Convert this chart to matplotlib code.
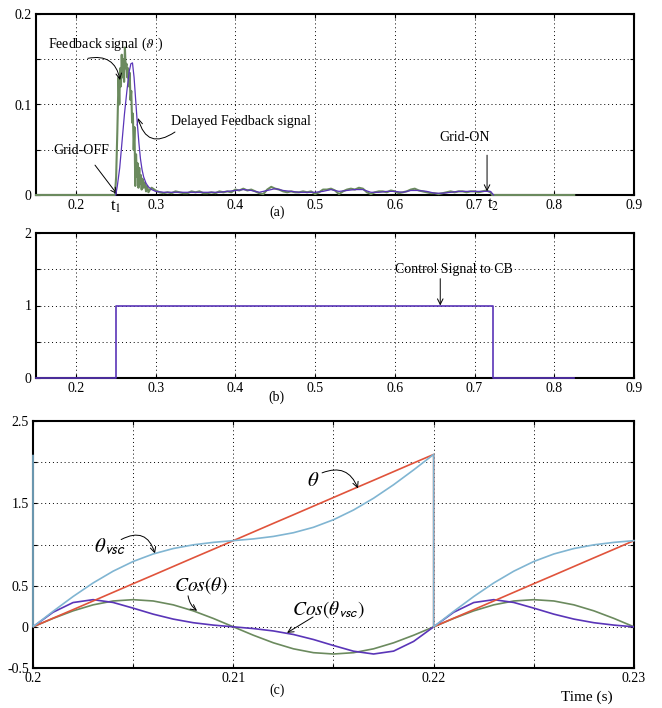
import matplotlib
matplotlib.use("Agg")
import matplotlib.pyplot as plt

plt.rcParams['font.family'] = ['Liberation Serif', 'DejaVu Serif']
plt.rcParams['mathtext.fontset'] = 'stix'

# ---------------- Panel (a) data ----------------
fb_t = [0.150, 0.249, 0.2505, 0.252, 0.2535, 0.2545, 0.2555, 0.2565, 0.2575, 0.2585,
        0.2595, 0.2605, 0.2615, 0.2625, 0.2635, 0.2645, 0.2655, 0.2665, 0.2675, 0.2685,
        0.2695, 0.2705, 0.2715, 0.2725, 0.2735, 0.2745, 0.2755, 0.2765, 0.2775, 0.2785,
        0.2795, 0.2805, 0.2815, 0.2825, 0.2835, 0.285, 0.2865, 0.288, 0.2895, 0.291,
        0.293, 0.295, 0.300, 0.305, 0.310, 0.315, 0.320, 0.325, 0.330, 0.335,
        0.340, 0.345, 0.350, 0.355, 0.360, 0.365, 0.370, 0.375, 0.380, 0.385,
        0.390, 0.395, 0.400, 0.405, 0.410, 0.415, 0.420, 0.425, 0.430, 0.435,
        0.440, 0.445, 0.450, 0.455, 0.460, 0.465, 0.470, 0.475, 0.480, 0.485,
        0.490, 0.495, 0.500, 0.505, 0.510, 0.515, 0.520, 0.525, 0.530, 0.535,
        0.540, 0.545, 0.550, 0.555, 0.560, 0.565, 0.570, 0.575, 0.580, 0.585,
        0.590, 0.595, 0.600, 0.605, 0.610, 0.615, 0.620, 0.625, 0.630, 0.635,
        0.640, 0.645, 0.650, 0.655, 0.660, 0.665, 0.670, 0.675, 0.680, 0.685,
        0.690, 0.695, 0.700, 0.705, 0.710, 0.715, 0.720, 0.722, 0.825]
fb_v = [0.0, 0.0, 0.02, 0.07, 0.13, 0.10, 0.14, 0.12, 0.155, 0.13,
        0.15, 0.125, 0.163, 0.14, 0.145, 0.13, 0.14, 0.12, 0.135, 0.105,
        0.115, 0.08, 0.09, 0.05, 0.075, 0.01, 0.045, 0.02, 0.035, 0.008,
        0.03, 0.012, 0.022, 0.006, 0.018, 0.008, 0.014, 0.004, 0.010, 0.003,
        0.006, 0.008, 0.005, 0.003, 0.002, 0.003, 0.002, 0.004, 0.003, 0.002,
        0.002, 0.004, 0.003, 0.004, 0.002, 0.002, 0.003, 0.002, 0.004, 0.003,
        0.004, 0.003, 0.006, 0.005, 0.007, 0.005, 0.006, 0.004, 0.002, 0.001,
        0.006, 0.009, 0.007, 0.006, 0.004, 0.003, 0.004, 0.003, 0.003, 0.004,
        0.003, 0.004, 0.001, 0.003, 0.006, 0.006, 0.007, 0.005, 0.001, 0.004,
        0.006, 0.007, 0.006, 0.008, 0.007, 0.003, 0.001, 0.003, 0.004, 0.004,
        0.003, 0.005, 0.004, 0.002, 0.003, 0.004, 0.006, 0.007, 0.005, 0.004,
        0.003, 0.002, 0.002, 0.001, 0.002, 0.003, 0.004, 0.003, 0.004, 0.004,
        0.003, 0.004, 0.004, 0.003, 0.004, 0.005, 0.003, 0.0, 0.0]

dl_t = [0.250, 0.252, 0.255, 0.258, 0.261, 0.264, 0.267, 0.269, 0.271,
        0.273, 0.275, 0.277, 0.279, 0.281, 0.283, 0.285, 0.288, 0.291, 0.295,
        0.300, 0.310, 0.320, 0.330, 0.340, 0.350, 0.360, 0.370, 0.380, 0.390,
        0.400, 0.410, 0.420, 0.430, 0.440, 0.450, 0.460, 0.470, 0.480, 0.490,
        0.500, 0.510, 0.520, 0.530, 0.540, 0.550, 0.560, 0.570, 0.580, 0.590,
        0.600, 0.610, 0.620, 0.630, 0.640, 0.650, 0.660, 0.670, 0.680, 0.690,
        0.700, 0.710, 0.720, 0.724]
dl_v = [0.0, 0.01, 0.03, 0.06, 0.09, 0.115, 0.137, 0.145, 0.146,
        0.13, 0.105, 0.08, 0.058, 0.04, 0.028, 0.02, 0.013, 0.009, 0.006,
        0.004, 0.003, 0.003, 0.003, 0.003, 0.003, 0.003, 0.003, 0.003, 0.004,
        0.005, 0.006, 0.005, 0.003, 0.005, 0.007, 0.005, 0.004, 0.003, 0.003,
        0.003, 0.004, 0.006, 0.004, 0.005, 0.006, 0.006, 0.003, 0.003, 0.004,
        0.004, 0.003, 0.005, 0.005, 0.004, 0.002, 0.002, 0.003, 0.004, 0.004,
        0.004, 0.004, 0.004, 0.0]

# ---------------- Panel (b) data ----------------
cb_t = [0.150, 0.250, 0.250, 0.723, 0.723, 0.825]
cb_v = [0, 0, 1, 1, 0, 0]

# ---------------- Panel (c) data ----------------
t_c = [0.200, 0.201, 0.202, 0.203, 0.204, 0.205, 0.206, 0.207, 0.208, 0.209,
       0.210, 0.211, 0.212, 0.213, 0.214, 0.215, 0.216, 0.217, 0.218, 0.219,
       0.220, 0.220, 0.221, 0.222, 0.223, 0.224, 0.225, 0.226, 0.227, 0.228,
       0.229, 0.230]
theta = [0, 0.105, 0.209, 0.314, 0.419, 0.524, 0.628, 0.733, 0.838, 0.942,
         1.047, 1.152, 1.257, 1.361, 1.466, 1.571, 1.676, 1.780, 1.885, 1.990,
         2.094, 0, 0.105, 0.209, 0.314, 0.419, 0.524, 0.628, 0.733, 0.838,
         0.942, 1.047]
t_vsc = [0.200, 0.200, 0.201, 0.202, 0.203, 0.204, 0.205, 0.206, 0.207, 0.208, 0.209,
         0.210, 0.211, 0.212, 0.213, 0.214, 0.215, 0.216, 0.217, 0.218, 0.219,
         0.220, 0.220, 0.221, 0.222, 0.223, 0.224, 0.225, 0.226, 0.227, 0.228,
         0.229, 0.230]
theta_vsc = [2.08, 0, 0.188, 0.368, 0.533, 0.676, 0.794, 0.885, 0.951, 0.996, 1.026,
             1.047, 1.068, 1.098, 1.143, 1.209, 1.301, 1.419, 1.562, 1.726, 1.906,
             2.094, 0, 0.188, 0.368, 0.533, 0.676, 0.794, 0.885, 0.951, 0.996,
             1.026, 1.047]
cos_theta = [0, 0.102, 0.194, 0.267, 0.314, 0.330, 0.314, 0.267, 0.194, 0.102,
             0, -0.102, -0.194, -0.267, -0.314, -0.330, -0.314, -0.267, -0.194, -0.102,
             0, 0, 0.102, 0.194, 0.267, 0.314, 0.330, 0.314, 0.267, 0.194,
             0.102, 0]
cos_theta_vsc = [0, 0.177, 0.295, 0.330, 0.296, 0.227, 0.154, 0.094, 0.050, 0.021,
                 0, -0.021, -0.050, -0.093, -0.154, -0.227, -0.296, -0.330, -0.295, -0.177,
                 0, 0, 0.177, 0.295, 0.330, 0.296, 0.227, 0.154, 0.094, 0.050,
                 0.021, 0]

# tick definitions
ab_xticks = [0.2, 0.3, 0.4, 0.5, 0.6, 0.7, 0.8, 0.9]
ab_xlabels = ['0.2', '0.3', '0.4', '0.5', '0.6', '0.7', '0.8', '0.9']
a_yticks = [0, 0.05, 0.1, 0.15, 0.2]
a_ylabels = ['0', '', '0.1', '', '0.2']
b_yticks = [0, 0.5, 1, 1.5, 2]
b_ylabels = ['0', '', '1', '', '2']
c_xticks = [0.2, 0.205, 0.21, 0.215, 0.22, 0.225, 0.23]
c_xlabels = ['0.2', '', '0.21', '', '0.22', '', '0.23']
c_yticks = [-0.5, 0, 0.5, 1, 1.5, 2, 2.5]
c_ylabels = ['-0.5', '0', '0.5', '', '1.5', '', '2.5']

GREEN = '#6b8a5e'
PURPLE = '#5a35b8'
RED = '#e0533b'
BLUE = '#80b5d2'

fig = plt.figure(figsize=(6.62, 7.08), dpi=100)
W, H = 662.0, 708.0

def make_ax(l, t, r, b):
    return fig.add_axes([l / W, 1 - b / H, (r - l) / W, (b - t) / H])

def style(ax):
    for s in ax.spines.values():
        s.set_linewidth(1.5)
    ax.tick_params(direction='in', length=3, width=0.8, labelsize=10, pad=3,
                   top=True, right=True)
    ax.grid(True, linestyle=(0, (1, 3)), color='k', linewidth=0.7)

ax1 = make_ax(36, 14, 634, 195)
ax2 = make_ax(36, 233, 634, 378)
ax3 = make_ax(33, 421, 634, 668)

# ---- (a)
ax1.plot(fb_t, fb_v, color=GREEN, lw=1.5, zorder=3, clip_on=False)
ax1.plot(dl_t, dl_v, color=PURPLE, lw=0.9, zorder=4, clip_on=False)
ax1.set_xlim(0.15, 0.9)
ax1.set_ylim(0, 0.2)
ax1.set_xticks(ab_xticks)
ax1.set_xticklabels(ab_xlabels)
ax1.set_yticks(a_yticks)
ax1.set_yticklabels(a_ylabels)
style(ax1)
arr = dict(arrowstyle='->', color='k', lw=0.7, shrinkA=0, shrinkB=0)
ax1.text(0.2366, 0.166, u'Feedback signal ($\\vartheta$ )', ha='center', va='center', fontsize=10)
ax1.annotate('', xy=(0.2554, 0.127), xytext=(0.215, 0.151),
             arrowprops=dict(arr, connectionstyle='arc3,rad=-0.5'))
ax1.text(0.407, 0.081, 'Delayed Feedback signal', ha='center', va='center', fontsize=10)
ax1.annotate('', xy=(0.278, 0.085), xytext=(0.3243, 0.0696),
             arrowprops=dict(arr, connectionstyle='arc3,rad=-0.7'))
ax1.text(0.2065, 0.0497, 'Grid-OFF', ha='center', va='center', fontsize=10)
ax1.annotate('', xy=(0.2516, 0.001), xytext=(0.224, 0.033), arrowprops=arr)
ax1.text(0.688, 0.064, 'Grid-ON', ha='center', va='center', fontsize=10)
ax1.annotate('', xy=(0.7157, 0.004), xytext=(0.7157, 0.044), arrowprops=arr)
ax1.text(0.2503, -0.013, 't$_1$', ha='center', va='center', fontsize=12, clip_on=False)
ax1.text(0.7235, -0.011, 't$_2$', ha='center', va='center', fontsize=12, clip_on=False)
ax1.text(0.452, -0.019, '(a)', ha='center', va='center', fontsize=10, clip_on=False)

# ---- (b)
ax2.plot(cb_t, cb_v, color=PURPLE, lw=1.2, zorder=3, clip_on=False)
ax2.set_xlim(0.15, 0.9)
ax2.set_ylim(0, 2)
ax2.set_xticks(ab_xticks)
ax2.set_xticklabels(ab_xlabels)
ax2.set_yticks(b_yticks)
ax2.set_yticklabels(b_ylabels)
style(ax2)
ax2.text(0.674, 1.5, 'Control Signal to CB', ha='center', va='center', fontsize=10)
ax2.annotate('', xy=(0.657, 1.0), xytext=(0.657, 1.37), arrowprops=arr)
ax2.text(0.452, -0.26, '(b)', ha='center', va='center', fontsize=10, clip_on=False)

# ---- (c)
ax3.plot(t_c, cos_theta, color=GREEN, lw=1.2, zorder=3)
ax3.plot(t_c, cos_theta_vsc, color=PURPLE, lw=1.2, zorder=3)
ax3.plot(t_c, theta, color=RED, lw=1.2, zorder=3)
ax3.plot(t_vsc, theta_vsc, color=BLUE, lw=1.2, zorder=4, clip_on=False)
ax3.set_xlim(0.2, 0.23)
ax3.set_ylim(-0.5, 2.5)
ax3.set_xticks(c_xticks)
ax3.set_xticklabels(c_xlabels)
ax3.set_yticks(c_yticks)
ax3.set_yticklabels(c_ylabels)
style(ax3)
ax3.text(0.21398, 1.76, r'$\theta$', ha='center', va='center', fontsize=15)
ax3.annotate('', xy=(0.21622, 1.68), xytext=(0.21443, 1.87),
             arrowprops=dict(arr, connectionstyle='arc3,rad=-0.5'))
ax3.text(0.20384, 0.97, r'$\theta_{\mathsf{vsc}}$', ha='center', va='center', fontsize=15)
ax3.annotate('', xy=(0.20609, 0.89), xytext=(0.20440, 1.06),
             arrowprops=dict(arr, connectionstyle='arc3,rad=-0.6'))
ax3.text(0.20839, 0.50, r'$\mathit{Cos}(\theta)$', ha='center', va='center', fontsize=14)
ax3.annotate('', xy=(0.20819, 0.194), xytext=(0.20774, 0.377),
             arrowprops=dict(arr, connectionstyle='arc3,rad=0.2'))
ax3.text(0.21473, 0.207, r'$\mathit{Cos}(\theta_{\mathsf{vsc}})$', ha='center', va='center', fontsize=14)
ax3.annotate('', xy=(0.21268, -0.073), xytext=(0.21398, 0.12), arrowprops=arr)
ax3.text(0.21218, -0.765, '(c)', ha='center', va='center', fontsize=10, clip_on=False)
ax3.text(0.22765, -0.85, 'Time (s)', ha='center', va='center', fontsize=11, clip_on=False)

fig.savefig('out.png', dpi=100)
